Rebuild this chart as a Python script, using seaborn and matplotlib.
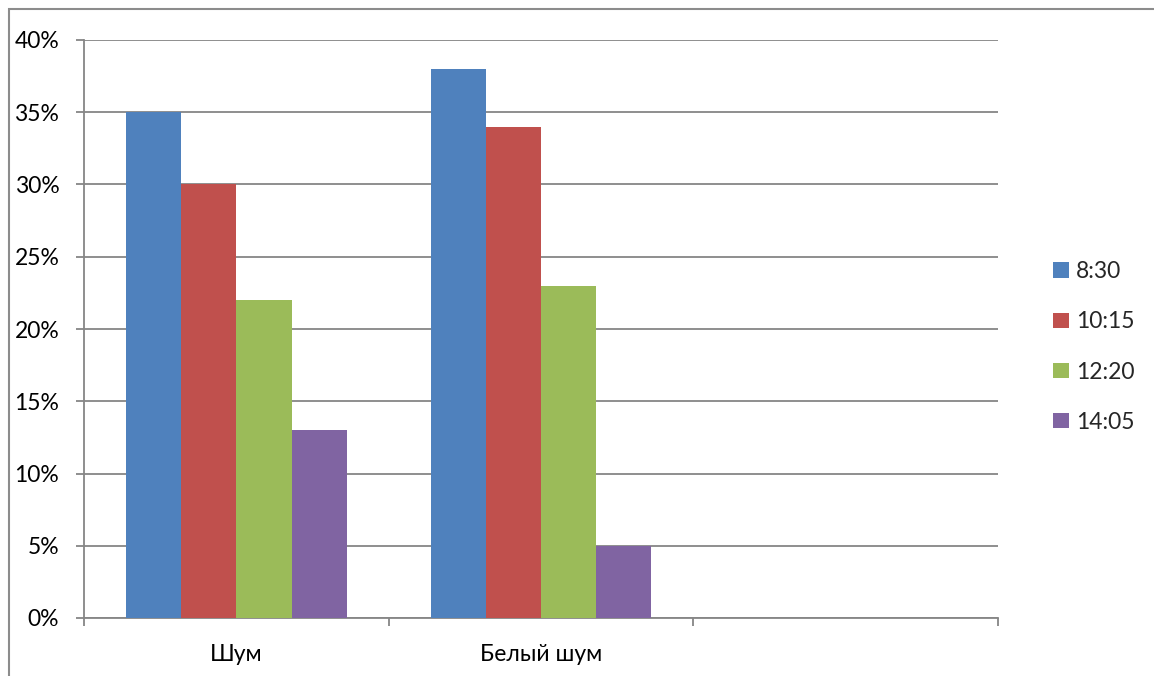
import matplotlib
matplotlib.use("Agg")
import matplotlib.pyplot as plt
from matplotlib.patches import Rectangle
from matplotlib.ticker import FixedLocator, FuncFormatter
import seaborn as sns
import pandas as pd

categories = ["Шум", "Белый шум"]
axis_order = ["Шум", "Белый шум", " "]
times = ["8:30", "10:15", "12:20", "14:05"]
shum = [35, 30, 22, 13]
beliy_shum = [38, 34, 23, 5]
colors = ["#4F81BD", "#C0504D", "#9BBB59", "#8064A2"]
y_ticks = [0, 5, 10, 15, 20, 25, 30, 35, 40]

rows = []
for cat, vals in zip(categories, [shum, beliy_shum]):
    for t, v in zip(times, vals):
        rows.append({"cat": cat, "time": t, "value": v})
df = pd.DataFrame(rows)

sns.set_theme(style="white")
plt.rcParams["font.family"] = ["Lato", "DejaVu Sans"]

fs = 16.5
fig = plt.figure(figsize=(11.54, 6.76), dpi=100)
ax = fig.add_axes([84 / 1154, 1 - 618 / 676, (998 - 84) / 1154, (618 - 40) / 676])

sns.barplot(data=df, x="cat", y="value", hue="time", order=axis_order,
            hue_order=times, palette=colors, width=0.725, linewidth=0,
            saturation=1, errorbar=None, ax=ax, zorder=3)

grid_c = "#868686"
ax.set_ylim(0, 40)
ax.set_xlim(-0.5, 2.5)
ax.set_yticks(y_ticks)
ax.yaxis.set_major_formatter(FuncFormatter(lambda v, p: f"{int(v)}%"))
ax.grid(axis="y", color=grid_c, linewidth=1.3, zorder=0)
ax.set_axisbelow(True)
for s in ["top", "right"]:
    ax.spines[s].set_visible(False)
for s in ["left", "bottom"]:
    ax.spines[s].set_color(grid_c)
    ax.spines[s].set_linewidth(1.3)
    ax.spines[s].set_zorder(1)

ax.tick_params(axis="y", which="major", left=True, length=5.8, width=1.3,
               color=grid_c, pad=12, labelsize=fs, labelcolor="black")
ax.tick_params(axis="x", which="major", bottom=False, length=0, pad=19,
               labelsize=fs, labelcolor="black")
ax.xaxis.set_minor_locator(FixedLocator([-0.5, 0.5, 1.5, 2.5]))
ax.tick_params(axis="x", which="minor", bottom=True, length=5.8, width=1.3,
               color=grid_c)
ax.set_xlabel("")
ax.set_ylabel("")

handles, labels = ax.get_legend_handles_labels()
ax.get_legend().remove()
fig.legend(handles, labels, loc="center left",
           bbox_to_anchor=(1042 / 1154, 1 - 347 / 676), frameon=False,
           fontsize=fs, handlelength=0.68, handleheight=0.68,
           handletextpad=0.3, labelspacing=1.27, borderpad=0)

fig.patches.append(Rectangle((9 / 1154, -0.01), 1.0, 1 - 9 / 676 + 0.01,
                             transform=fig.transFigure, fill=False,
                             edgecolor="#8c8c8c", linewidth=1.5))

fig.savefig("out.png", dpi=100, facecolor="white")
